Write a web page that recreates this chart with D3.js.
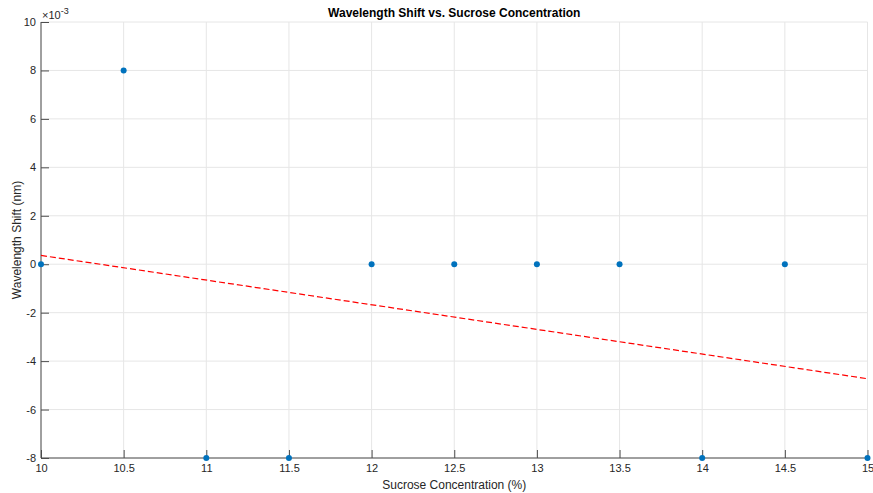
<!DOCTYPE html>
<html>
<head>
<meta charset="utf-8">
<script src="https://cdn.jsdelivr.net/npm/d3@7"></script>
<style>
  body { margin: 0; background: #fff; }
  text { font-family: "Liberation Sans", Arial, sans-serif; }
</style>
</head>
<body>
<div id="main"></div>
<script>
// data (y in units of 1e-3 nm)
const concentration = [10, 10.5, 11, 11.5, 12, 12.5, 13, 13.5, 14, 14.5, 15];
const shift = [0, 8, -8, -8, 0, 0, 0, 0, -8, 0, -8];
const xTicks = [10, 10.5, 11, 11.5, 12, 12.5, 13, 13.5, 14, 14.5, 15];
const yTicks = [-8, -6, -4, -2, 0, 2, 4, 6, 8, 10];

const W = 873, H = 493;
const MARGIN = { top: 22, right: 5, bottom: 35, left: 41 };

const svg = d3.select('#main').append('svg')
  .attr('width', W).attr('height', H);

const xScale = d3.scaleLinear().domain([10, 15]).range([MARGIN.left, W - MARGIN.right - 0.5]);
const yScale = d3.scaleLinear().domain([-8, 10]).range([H - MARGIN.bottom, MARGIN.top]);

const axisColor = '#4d4d4d';
const gridColor = '#e6e6e6';

// grid
svg.append('g').selectAll('line.gx').data(xTicks).enter().append('line')
  .attr('x1', d => xScale(d)).attr('x2', d => xScale(d))
  .attr('y1', yScale(-8)).attr('y2', yScale(10))
  .attr('stroke', gridColor).attr('stroke-width', 1);
svg.append('g').selectAll('line.gy').data(yTicks).enter().append('line')
  .attr('x1', xScale(10)).attr('x2', xScale(15))
  .attr('y1', d => yScale(d)).attr('y2', d => yScale(d))
  .attr('stroke', gridColor).attr('stroke-width', 1);

// axes (ticks pointing inward)
const xAxis = svg.append('g')
  .attr('transform', `translate(0,${yScale(-8)})`)
  .call(d3.axisBottom(xScale).tickValues(xTicks).tickSize(-8).tickPadding(6).tickFormat(d => String(d)));
const yAxis = svg.append('g')
  .attr('transform', `translate(${xScale(10)},0)`)
  .call(d3.axisLeft(yScale).tickValues(yTicks).tickSize(-8).tickPadding(5).tickFormat(d => String(d)));

[xAxis, yAxis].forEach(ax => {
  ax.select('.domain').attr('stroke', axisColor).attr('stroke-width', 1);
  ax.selectAll('.tick line').attr('stroke', axisColor);
  ax.selectAll('.tick text').attr('fill', '#262626').style('font-size', '11px')
    .style('font-family', '"Liberation Sans", Arial, sans-serif');
});
// remove end caps of domain path
xAxis.select('.domain').attr('d', `M${xScale(10)},0H${xScale(15)}`);
yAxis.select('.domain').attr('d', `M0,${yScale(-8)}V${yScale(10)}`);

// exponent label
const expo = svg.append('text')
  .attr('x', xScale(10) + 1).attr('y', yScale(10) - 3)
  .attr('fill', '#262626').style('font-size', '11px');
expo.append('tspan').text('\u00d710');
expo.append('tspan').attr('dy', -5).style('font-size', '9px').text('-3');

// least-squares fit line
const mx = d3.mean(concentration), my = d3.mean(shift);
const slope = d3.sum(concentration, (x, i) => (x - mx) * (shift[i] - my)) /
  d3.sum(concentration, x => (x - mx) ** 2);
const fit = x => my + slope * (x - mx);
svg.append('line')
  .attr('x1', xScale(10)).attr('y1', yScale(fit(10)))
  .attr('x2', xScale(15)).attr('y2', yScale(fit(15)))
  .attr('stroke', '#ff0000').attr('stroke-width', 1.2)
  .attr('stroke-dasharray', '6,3');

// points
svg.append('g').selectAll('circle').data(concentration).enter().append('circle')
  .attr('cx', d => xScale(d))
  .attr('cy', (d, i) => yScale(shift[i]))
  .attr('r', 3)
  .attr('fill', '#0072bd');

// title and labels
svg.append('text')
  .attr('x', (xScale(10) + xScale(15)) / 2).attr('y', 17)
  .attr('text-anchor', 'middle').attr('fill', '#000')
  .style('font-size', '12px').style('font-weight', 'bold')
  .text('Wavelength Shift vs. Sucrose Concentration');
svg.append('text')
  .attr('x', (xScale(10) + xScale(15)) / 2).attr('y', 489)
  .attr('text-anchor', 'middle').attr('fill', '#262626')
  .style('font-size', '12px')
  .text('Sucrose Concentration (%)');
svg.append('text')
  .attr('transform', `translate(21,${(yScale(-8) + yScale(10)) / 2}) rotate(-90)`)
  .attr('text-anchor', 'middle').attr('fill', '#262626')
  .style('font-size', '12px')
  .text('Wavelength Shift (nm)');
</script>
</body>
</html>
